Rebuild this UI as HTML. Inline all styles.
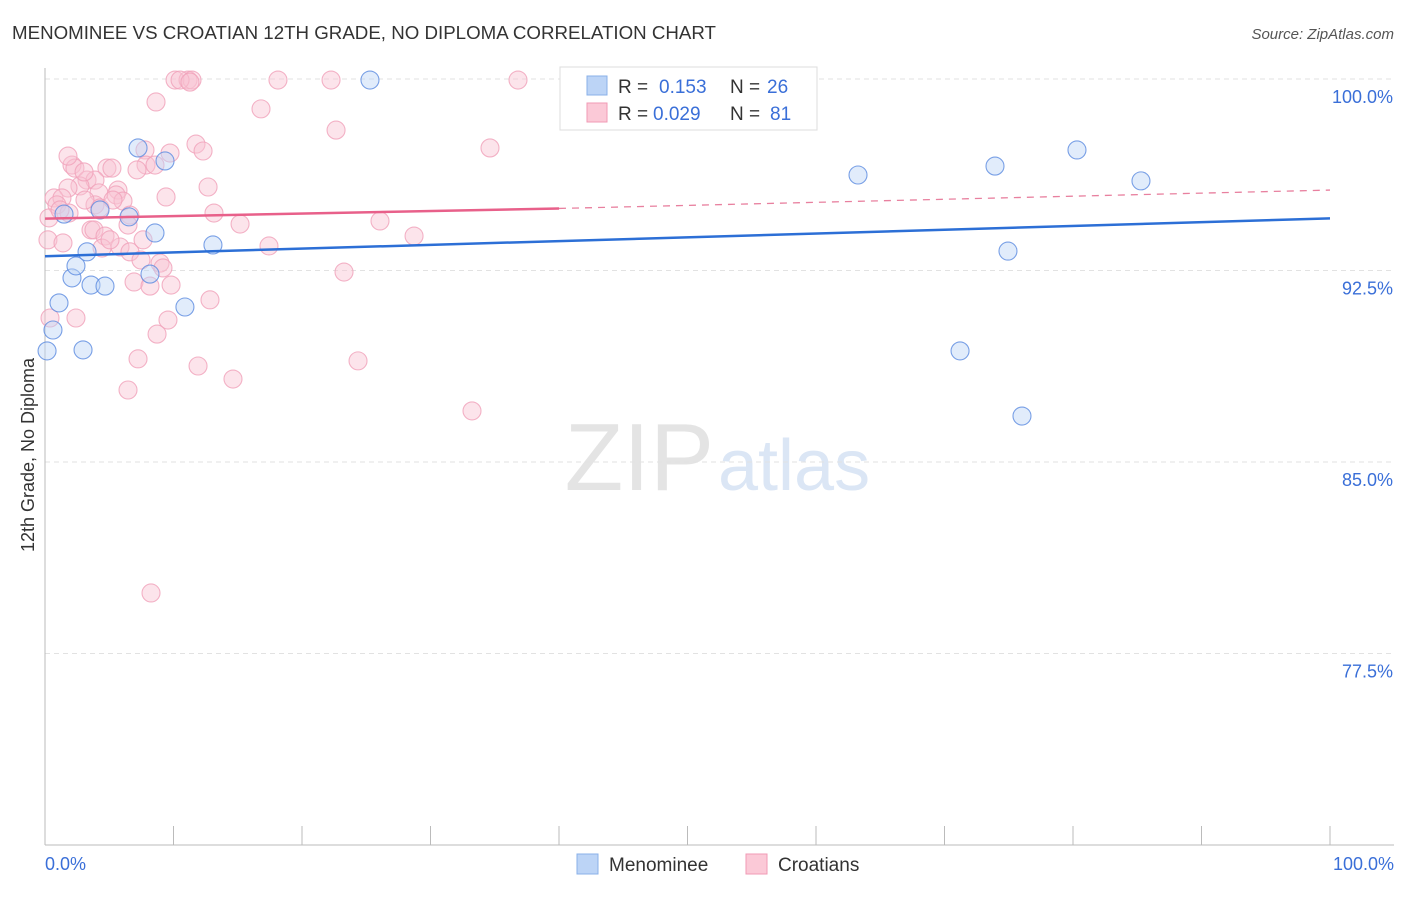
<!DOCTYPE html>
<html><head><meta charset="utf-8"><style>
body{margin:0;background:#fff;font-family:"Liberation Sans",sans-serif;}
svg text{font-family:"Liberation Sans",sans-serif;}
</style></head><body>
<svg width="1406" height="892" xmlns="http://www.w3.org/2000/svg" id="chart">
<text x="12" y="39" font-size="18" fill="#333" textLength="704" lengthAdjust="spacingAndGlyphs">MENOMINEE VS CROATIAN 12TH GRADE, NO DIPLOMA CORRELATION CHART</text>
<text x="1394" y="39" font-size="15" fill="#555" text-anchor="end" font-style="italic">Source: ZipAtlas.com</text>
<text x="714" y="490" font-size="96" fill="#e4e4e4" text-anchor="end" font-family="Liberation Serif">ZIP</text>
<text x="718" y="490" font-size="72" fill="#dbe6f5">atlas</text>
<g id="grid"></g>
<line x1="45" y1="68" x2="45" y2="845" stroke="#bbb"/>
<line x1="45" y1="845" x2="1394" y2="845" stroke="#bbb"/>
<text transform="translate(34,455) rotate(-90)" font-size="18" fill="#333" text-anchor="middle">12th Grade, No Diploma</text>
<text x="45" y="870" font-size="18" fill="#3a6fd8">0.0%</text>
<text x="1394" y="870" font-size="18" fill="#3a6fd8" text-anchor="end">100.0%</text>
<g id="points"></g>
<g id="lines"></g>
<g>
<rect x="560" y="67" width="257" height="63" fill="#fff" stroke="#ddd"/>
<rect x="587" y="76" width="20" height="19" fill="#bcd4f6" stroke="#8ab0e8"/>
<rect x="587" y="103" width="20" height="19" fill="#fbc9d7" stroke="#f09ab4"/>
<text x="618" y="93" font-size="19" fill="#333">R = </text><text x="659" y="93" font-size="19" fill="#3a6fd8">0.153</text>
<text x="730" y="93" font-size="19" fill="#333">N = </text><text x="767" y="93" font-size="19" fill="#3a6fd8">26</text>
<text x="618" y="120" font-size="19" fill="#333">R = </text><text x="653" y="120" font-size="19" fill="#3a6fd8">0.029</text>
<text x="730" y="120" font-size="19" fill="#333">N = </text><text x="770" y="120" font-size="19" fill="#3a6fd8">81</text>
</g>
<g>
<rect x="577" y="854" width="21" height="20" fill="#bcd4f6" stroke="#8ab0e8"/>
<text x="609" y="871" font-size="19" fill="#333">Menominee</text>
<rect x="746" y="854" width="21" height="20" fill="#fbc9d7" stroke="#f09ab4"/>
<text x="778" y="871" font-size="19" fill="#333">Croatians</text>
</g>
</svg>
<script>
const yTicks=[100,92.5,85,77.5];
const yTickLabels=["100.0%","92.5%","85.0%","77.5%"];
const xTicks=[0,10,20,30,40,50,60,70,80,90,100];
const blueX=[0.16,0.62,1.09,2.1,2.41,2.96,3.27,3.58,4.28,4.67,6.54,7.24,8.17,8.56,9.34,10.89,13.07,25.29,63.27,73.93,74.94,80.31,85.29,71.21,76.03,1.48];
const blueY=[89.35,90.17,91.23,92.21,92.68,89.39,93.23,91.93,94.87,91.89,94.6,97.3,92.36,93.97,96.79,91.07,93.5,99.96,96.24,96.59,93.26,97.22,96.01,89.35,86.8,94.71];
const pinkX=[10.12,11.13,11.44,18.13,22.26,36.81,8.64,16.81,22.65,34.63,11.75,7.78,9.73,12.3,2.1,2.33,4.82,5.21,7.86,8.56,7.16,3.27,3.89,2.72,1.79,5.68,5.53,4.2,12.69,9.42,0.7,1.32,0.93,1.87,6.07,3.89,4.28,6.61,13.15,0.31,15.18,6.46,3.58,3.81,4.67,26.07,28.72,0.23,1.4,5.84,4.44,6.61,17.43,7.47,8.95,9.18,23.27,6.93,8.17,9.81,12.84,2.41,9.57,0.39,8.72,7.24,11.91,24.36,14.63,6.46,33.23,8.25,1.17,3.04,5.29,5.06,7.63,1.79,10.51,11.28,3.11];
const pinkY=[99.96,99.96,99.96,99.96,99.96,99.96,99.1,98.83,98.0,97.3,97.45,97.22,97.1,97.18,96.63,96.51,96.51,96.51,96.63,96.63,96.44,96.04,96.04,95.81,95.73,95.65,95.46,95.54,95.77,95.38,95.34,95.34,95.07,94.75,95.22,95.07,94.95,94.67,94.75,94.56,94.32,94.28,94.09,94.09,93.85,94.44,93.85,93.7,93.58,93.42,93.38,93.23,93.46,92.91,92.79,92.6,92.44,92.05,91.89,91.93,91.35,90.64,90.56,90.64,90.01,89.04,88.76,88.96,88.25,87.82,87.0,79.87,94.87,96.36,95.26,93.7,93.7,96.98,99.96,99.88,95.26];
const blueLine=[93.06,94.54];
const pinkLine=[94.53,94.93,95.65];
const NS='http://www.w3.org/2000/svg';
const X=v=>45+v*12.85;
const Y=v=>79+(100-v)*25.533;
const grid=document.getElementById('grid');
yTicks.forEach((t,i)=>{
 const l=document.createElementNS(NS,'line');
 
 
 l.setAttribute('x1',45);l.setAttribute('x2',1394);l.setAttribute('y1',Y(t));l.setAttribute('y2',Y(t));
 l.setAttribute('stroke','#e2e2e2');l.setAttribute('stroke-dasharray','5,4');grid.appendChild(l);
 const tx=document.createElementNS(NS,'text');
 
 
 tx.setAttribute('x',1393);tx.setAttribute('y',Y(t)+24);tx.setAttribute('text-anchor','end');
 tx.setAttribute('font-size','18');tx.setAttribute('fill','#3a6fd8');tx.textContent=yTickLabels[i];grid.appendChild(tx);
});
xTicks.forEach(t=>{
 const l=document.createElementNS(NS,'line');
 
 
 l.setAttribute('x1',X(t));l.setAttribute('x2',X(t));l.setAttribute('y1',826);l.setAttribute('y2',845);
 l.setAttribute('stroke','#bbb');grid.appendChild(l);
});
const pts=document.getElementById('points');
function dot(x,y,fill,stroke,name){
 const c=document.createElementNS(NS,'circle');
 
 
 c.setAttribute('cx',X(x));c.setAttribute('cy',Y(y));c.setAttribute('r',9);
 c.setAttribute('fill',fill);c.setAttribute('fill-opacity','0.45');c.setAttribute('stroke',stroke);c.setAttribute('stroke-opacity','0.8');c.setAttribute('stroke-width','1.1');
 pts.appendChild(c);
}
pinkX.forEach((x,i)=>dot(x,pinkY[i],'#f9c3d3','#f0a0b9','croatians-point'));
blueX.forEach((x,i)=>dot(x,blueY[i],'#bcd4f6','#5a8ae0','menominee-point'));
const lg=document.getElementById('lines');
function ln(x1,y1,x2,y2,col,dash,name,w){
 const l=document.createElementNS(NS,'line');
 
 
 l.setAttribute('x1',X(x1));l.setAttribute('y1',Y(y1));l.setAttribute('x2',X(x2));l.setAttribute('y2',Y(y2));
 l.setAttribute('stroke',col);l.setAttribute('stroke-width',w);if(dash)l.setAttribute('stroke-dasharray',dash);
 lg.appendChild(l);
}
ln(0,blueLine[0],100,blueLine[1],'#2c6fd6',null,'menominee-trendline',2.5);
ln(0,pinkLine[0],40,pinkLine[1],'#e8608a',null,'croatians-trendline',2.5);
ln(40,pinkLine[1],100,pinkLine[2],'#e8809f','7,6','croatians-trendline-extension',1.3);
</script>
</body></html>
